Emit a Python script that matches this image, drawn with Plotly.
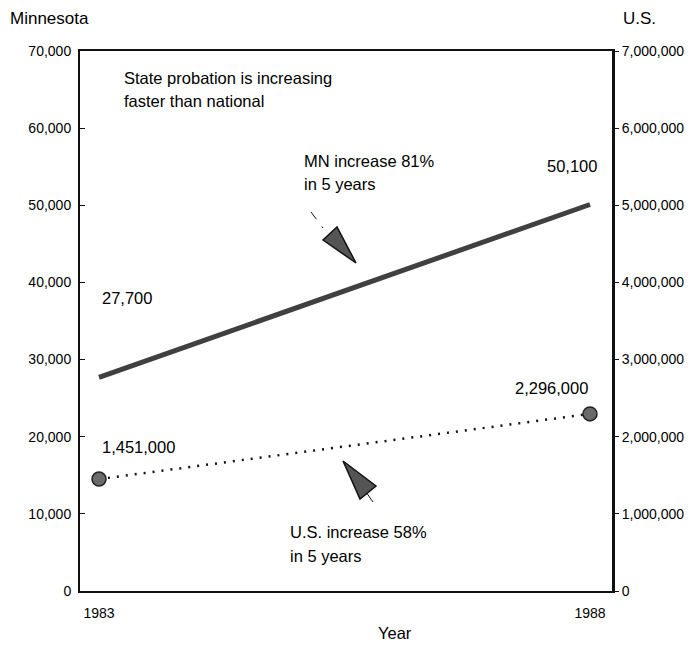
import plotly.graph_objects as go

# ---- data ----
years = [1983, 1988]
mn_values = [27700, 50100]
us_values = [1451000, 2296000]
mn_labels = ["27,700", "50,100"]
us_labels = ["1,451,000", "2,296,000"]
left_ticks = [0, 10000, 20000, 30000, 40000, 50000, 60000, 70000]
right_ticks = [0, 1000000, 2000000, 3000000, 4000000, 5000000, 6000000, 7000000]
right_ticktext = ["0", "1,000,000", "2,000,000", "3,000,000", "4,000,000",
                  "5,000,000", "6,000,000", "7,000,000"]

W, H = 696, 649
OFF = 8  # page body margin
L, R, T, B = 80, 612, 51, 591  # plot area in page pixels


def P(x, y):
    """page pixel -> paper coords"""
    return (x - L) / (R - L), (B - y) / (B - T)


FONT = "Liberation Sans"
TXT = "#000000"

fig = go.Figure()
fig.add_trace(go.Scatter(
    x=years, y=mn_values, mode="lines",
    line=dict(color="#404040", width=5), name="Minnesota", yaxis="y"))
fig.add_trace(go.Scatter(
    x=years, y=us_values, mode="lines+markers",
    line=dict(color="#111111", width=2.5, dash="2px,7px"),
    marker=dict(size=14, color="#6a6a6a", line=dict(color="#222222", width=1.5)),
    name="U.S.", yaxis="y2"))

annotations = []


def text(t, x, y, size=16.5, xanchor="left", yanchor="middle"):
    px, py = P(x, y)
    annotations.append(dict(text=t, x=px, y=py, xref="paper", yref="paper",
                            xanchor=xanchor, yanchor=yanchor, showarrow=False,
                            font=dict(family=FONT, size=size, color=TXT)))


text("Minnesota", 8, 19, 17)
text("U.S.", 621, 19, 17)
text("State probation is increasing", 122, 78)
text("faster than national", 122, 101)
text("MN increase 81%", 302, 161)
text("in 5 years", 302, 184)
text(mn_labels[0], 100, 298)
text(mn_labels[1], 545, 166)
text(us_labels[0], 100, 447)
text(us_labels[1], 513, 388)
text("U.S. increase 58%", 288, 532)
text("in 5 years", 288, 556)
text("Year", 395, 633, 16.5, xanchor="center")

shapes = []


def path(pts, fill=None, dash=None, width=1):
    d = ""
    for i, (x, y) in enumerate(pts):
        px, py = P(x, y)
        d += ("M" if i == 0 else "L") + f"{px},{py} "
    if fill:
        d += "Z"
    s = dict(type="path", path=d, xref="paper", yref="paper",
             line=dict(color="#111111", width=width, dash=dash or "solid"))
    if fill:
        s["fillcolor"] = fill
    shapes.append(s)


# MN arrow
path([(311, 212), (323, 228)], dash="dash", width=1)
path([(323, 240), (337, 227), (356, 263)], fill="#555555", width=1.5)
# US arrow
path([(366, 492), (373, 502)], width=1)
path([(343, 461), (376, 486), (360, 499)], fill="#555555", width=1.5)

fig.update_layout(
    width=W, height=H,
    margin=dict(l=L - OFF, r=W - R + OFF, t=T - OFF, b=H - B + OFF),
    paper_bgcolor="white", plot_bgcolor="white",
    showlegend=False,
    font=dict(family=FONT, color=TXT, size=14),
    xaxis=dict(range=[1983 - 19 / 98.2, 1988 + 22 / 98.2],
               tickvals=years, ticktext=[str(y) for y in years],
               showgrid=False, zeroline=False,
               showline=True, linecolor="#111111", linewidth=2, mirror=True,
               ticks="", ticklabelstandoff=8, tickfont=dict(size=14)),
    yaxis=dict(range=[0, 70000], tickvals=left_ticks, tickformat=",",
               showgrid=False, zeroline=False,
               showline=True, linecolor="#111111", linewidth=2,
               ticks="inside", ticklen=5, tickcolor="#111111",
               ticklabelstandoff=4, tickfont=dict(size=14)),
    yaxis2=dict(range=[0, 7000000], tickvals=right_ticks, ticktext=right_ticktext,
                overlaying="y", side="right",
                showgrid=False, zeroline=False,
                showline=True, linecolor="#111111", linewidth=3,
                ticks="outside", ticklen=4, tickcolor="#111111",
                tickfont=dict(size=14)),
    annotations=annotations,
    shapes=shapes,
)

fig.write_html("out.html")
